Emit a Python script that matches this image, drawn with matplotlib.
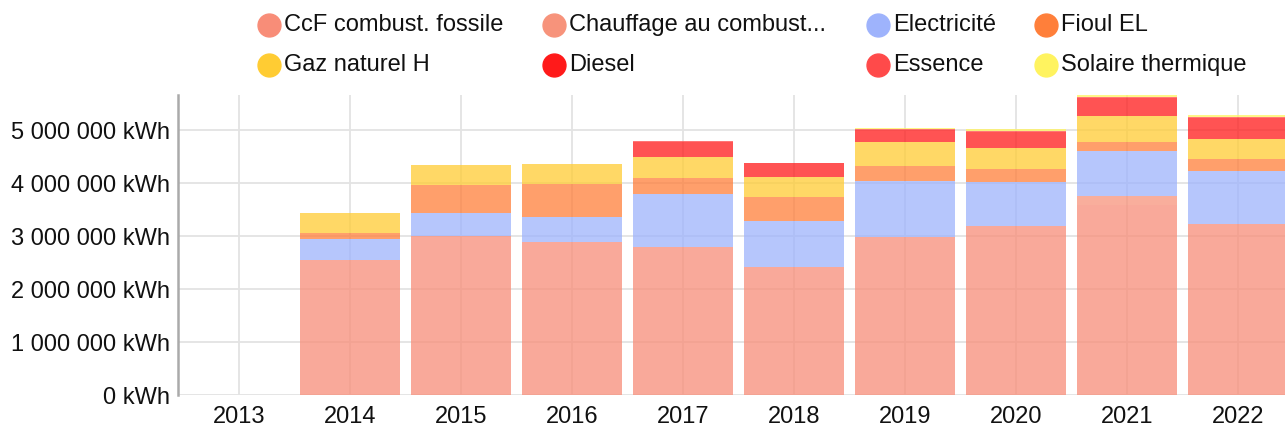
import numpy as np
import matplotlib
matplotlib.use("Agg")
import matplotlib.pyplot as plt
from matplotlib.lines import Line2D
from matplotlib.ticker import FuncFormatter, MultipleLocator

plt.rcParams["font.family"] = ["Liberation Sans", "DejaVu Sans"]

# donnees (kWh)
YEARS = ["2013", "2014", "2015", "2016", "2017", "2018", "2019", "2020", "2021", "2022"]
CCF_FOSSILE = [0, 2540000, 3000000, 2880000, 2800000, 2410000, 2990000, 3190000, 3580000, 3230000]
CHAUFFAGE = [0, 0, 0, 0, 0, 0, 0, 0, 180000, 0]
ELECTRICITE = [0, 410000, 435000, 480000, 995000, 870000, 1054000, 838000, 850000, 1003000]
FIOUL_EL = [0, 108000, 536000, 620000, 303000, 460000, 284000, 235000, 165000, 221000]
GAZ_NATUREL = [0, 380000, 373000, 384000, 392000, 384000, 441000, 403000, 498000, 378000]
DIESEL = [0, 0, 0, 0, 290000, 250000, 240000, 300000, 335000, 395000]
ESSENCE = [0, 0, 0, 0, 12000, 10000, 12000, 15000, 13000, 15000]
SOLAIRE = [0, 0, 0, 0, 0, 0, 25000, 38000, 44000, 49000]

SERIES = [
    ("CcF combust. fossile", CCF_FOSSILE, "#F88D78"),
    ("Chauffage au combust...", CHAUFFAGE, "#F7937B"),
    ("Electricité", ELECTRICITE, "#9EB3FC"),
    ("Fioul EL", FIOUL_EL, "#FF7F3A"),
    ("Gaz naturel H", GAZ_NATUREL, "#FFCC33"),
    ("Diesel", DIESEL, "#FF1A1A"),
    ("Essence", ESSENCE, "#FF4A4A"),
    ("Solaire thermique", SOLAIRE, "#FFF35F"),
]

W, H = 1285, 430
fig = plt.figure(figsize=(W / 100, H / 100), dpi=100)
ax = fig.add_axes([178 / W, 35 / H, 1107 / W, 300 / H])

x = np.arange(len(YEARS))
bottom = np.zeros(len(YEARS))
for label, vals, color in SERIES:
    vals = np.array(vals, dtype=float)
    ax.bar(x, vals, width=0.9, bottom=bottom, color=color, alpha=0.75,
           linewidth=0, zorder=2)
    bottom += vals

ax.set_xlim(-0.55, 9.42)
ax.set_ylim(0, bottom.max())
ax.set_xticks(x)
ax.set_xticklabels(YEARS)
ax.yaxis.set_major_locator(MultipleLocator(1000000))
ax.yaxis.set_major_formatter(
    FuncFormatter(lambda v, p: f"{int(round(v)):,} kWh".replace(",", " ")))

ax.grid(True, color="#e3e3e3", linewidth=1.3, zorder=0)
ax.set_axisbelow(True)
for s in ["top", "right", "bottom"]:
    ax.spines[s].set_visible(False)
ax.spines["left"].set_color("#aaaaaa")
ax.spines["left"].set_linewidth(1.8)
ax.tick_params(axis="both", length=0, labelsize=17, colors="#111111")
ax.tick_params(axis="y", pad=6)
ax.tick_params(axis="x", pad=8)

# legende (grille 4 colonnes, 2 lignes)
col_x = [257, 542, 866, 1034]
row_y = [25, 65]
for i, (label, vals, color) in enumerate(SERIES):
    cx = col_x[i % 4]
    cy = row_y[i // 4]
    fig.add_artist(Line2D([(cx + 11.5) / W], [1 - cy / H], marker="o",
                          markersize=16.5, color=color, linestyle="none",
                          transform=fig.transFigure))
    fig.text((cx + 27) / W, 1 - cy / H, label, fontsize=17, va="center",
             ha="left", color="#111111")

fig.savefig("out.png", dpi=100)
